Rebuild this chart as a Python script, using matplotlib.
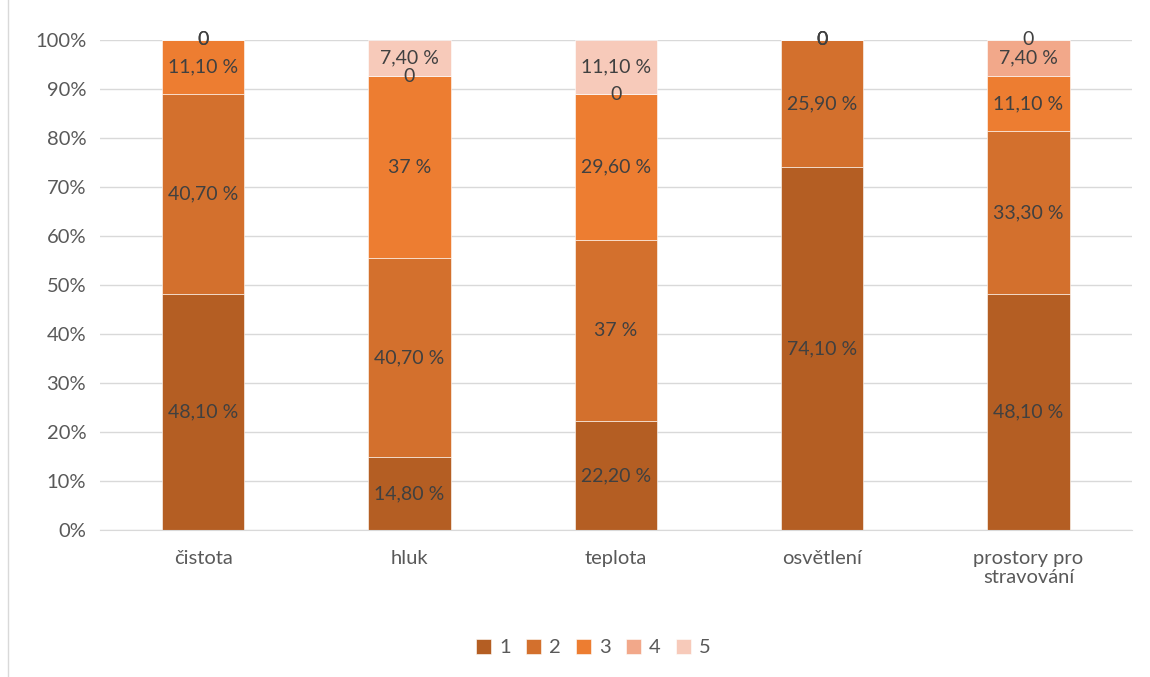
import numpy as np
import matplotlib
matplotlib.use("Agg")
import matplotlib.pyplot as plt

plt.rcParams["font.family"] = ["Lato", "DejaVu Sans"]

categories = ["čistota", "hluk", "teplota", "osvětlení", "prostory pro\nstravování"]
series_names = ["1", "2", "3", "4", "5"]
s1 = [48.1, 14.8, 22.2, 74.1, 48.1]
s2 = [40.7, 40.7, 37.0, 25.9, 33.3]
s3 = [11.1, 37.0, 29.6, 0.0, 11.1]
s4 = [0.0, 0.0, 0.0, 0.0, 7.4]
s5 = [0.0, 7.4, 11.1, 0.0, 0.0]
colors = ["#B45E23", "#D3702D", "#ED7D31", "#F2A88A", "#F7CABA"]


def _fmt(v):
    if v == 0:
        return "0"
    if float(v).is_integer():
        return f"{int(v)} %"
    return f"{v:.2f} %".replace(".", ",")


data = np.array([s1, s2, s3, s4, s5])
totals = data.sum(axis=0)
pct = data / totals * 100

fig = plt.figure(figsize=(11.5, 6.77), dpi=100)
ax = fig.add_axes([0.087, 0.217, 0.897, 0.724])

x = np.arange(len(categories))
bottom = np.zeros(len(categories))
for i, name in enumerate(series_names):
    ax.bar(x, pct[i], width=0.4, bottom=bottom, color=colors[i], label=name,
           edgecolor="white", linewidth=0.4, zorder=2)
    for j in range(len(categories)):
        ax.text(x[j], bottom[j] + pct[i][j] / 2, _fmt(data[i][j]),
                ha="center", va="center", fontsize=14, color="#404040", zorder=3)
    bottom += pct[i]

ax.set_ylim(0, 100)
ax.set_xlim(-0.5, len(categories) - 0.5)
ax.set_yticks(np.arange(0, 101, 10))
ax.set_yticklabels([f"{v}%" for v in range(0, 101, 10)])
ax.set_xticks(x)
ax.set_xticklabels(categories)
ax.yaxis.grid(True, color="#D9D9D9", linewidth=1, zorder=0)
ax.set_axisbelow(True)
for side in ("top", "right", "left"):
    ax.spines[side].set_visible(False)
ax.spines["bottom"].set_color("#D9D9D9")
ax.tick_params(axis="both", length=0, labelsize=14.5, colors="#595959", pad=10)
ax.tick_params(axis="x", pad=14)

ax.legend(loc="upper center", bbox_to_anchor=(0.478, -0.185), ncol=5, frameon=False,
          fontsize=14.5, labelcolor="#595959", handlelength=0.75, handleheight=0.75,
          handletextpad=0.4, columnspacing=0.75)

fig.add_artist(plt.Line2D([0.007, 0.007], [0.0, 1.0], transform=fig.transFigure,
                          color="#D9D9D9", linewidth=1))

fig.savefig("out.png", dpi=100)
